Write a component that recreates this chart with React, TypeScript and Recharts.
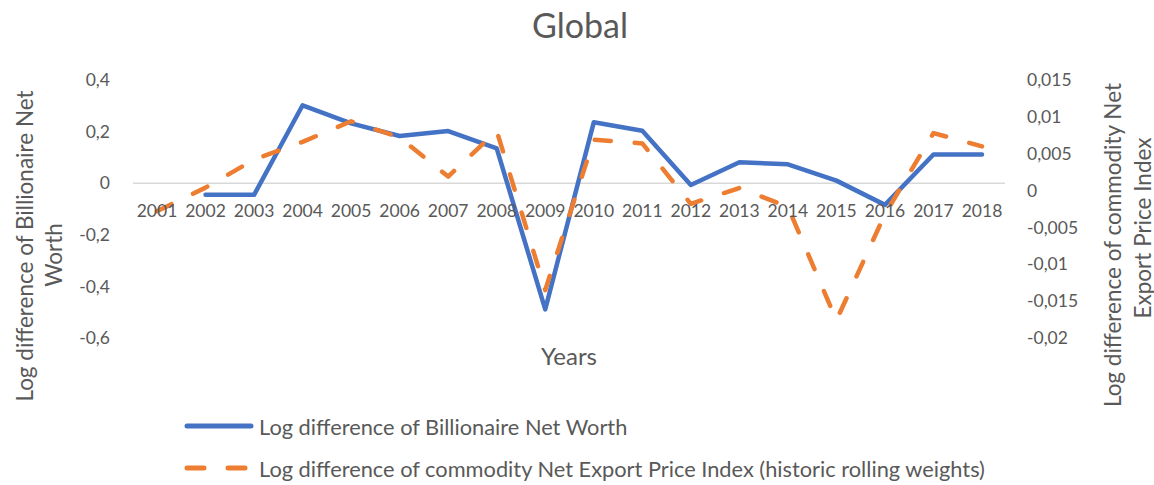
import { LineChart, Line, XAxis, YAxis, ReferenceLine, Legend } from "recharts";

// data
const years = [
  "2001", "2002", "2003", "2004", "2005", "2006", "2007", "2008", "2009",
  "2010", "2011", "2012", "2013", "2014", "2015", "2016", "2017", "2018",
];
const billionaireNetWorth = [
  null, -0.045, -0.045, 0.302, 0.232, 0.183, 0.202, 0.135, -0.489,
  0.236, 0.203, -0.007, 0.081, 0.073, 0.01, -0.084, 0.111, 0.111,
];
const commodityPriceIndex = [
  -0.0028, 0.0004, 0.0042, 0.0066, 0.0094, 0.0072, 0.0019, 0.0081, -0.0135,
  0.0069, 0.0064, -0.0018, 0.00035, -0.0022, -0.0176, -0.0032, 0.0078, 0.006,
];
const leftTicks = [-0.6, -0.4, -0.2, 0, 0.2, 0.4];
const rightTicks = [-0.02, -0.015, -0.01, -0.005, 0, 0.005, 0.01, 0.015];

const W = 1154;
const H = 485;
const LEGEND_H = 85;
const X_AXIS_H = 30;
// legend height is taken out of the bottom margin by recharts
const MARGIN = { top: 80, right: 69, bottom: 117 - LEGEND_H, left: 60 };
const PLOT_H = H - MARGIN.top - MARGIN.bottom - X_AXIS_H - LEGEND_H;
const ZERO_Y = MARGIN.top + PLOT_H * (0.4 / 1.0);
const TEXT = "#595959";
const FONT = "Lato, 'Open Sans', sans-serif";

const SERIES = [
  { key: "billionaire", name: "Log difference of Billionaire Net Worth", color: "#4472C4", dash: undefined as string | undefined, axis: "left" },
  { key: "commodity", name: "Log difference of commodity Net Export Price Index (historic rolling weights)", color: "#ED7D31", dash: "16 24", axis: "right" },
];

const data = years.map((year, i) => ({
  year,
  billionaire: billionaireNetWorth[i],
  commodity: commodityPriceIndex[i],
}));

const comma = (v: number) => String(v).replace(".", ",");

function YearTick({ x, payload }: any) {
  return (
    <text x={x} y={ZERO_Y + 34} textAnchor="middle" fill={TEXT} fontSize={17.5} fontFamily={FONT}>
      {payload.value}
    </text>
  );
}

function VTitle({ x, y, text }: { x: number; y: number; text: string }) {
  return (
    <text
      x={x}
      y={y}
      transform={`rotate(-90 ${x} ${y})`}
      textAnchor="middle"
      dominantBaseline="central"
      fill={TEXT}
      fontSize={22.5}
      fontFamily={FONT}
    >
      {text}
    </text>
  );
}

function LegendBox() {
  return (
    <svg width={W} height={LEGEND_H} style={{ display: "block" }}>
      {SERIES.map((s, i) => {
        const y = 26 + i * 42;
        return (
          <g key={s.key}>
            <line
              x1={187}
              x2={s.dash ? 246 : 251}
              y1={y}
              y2={y}
              stroke={s.color}
              strokeWidth={5}
              strokeLinecap="round"
              strokeDasharray={s.dash ? "17 24" : undefined}
            />
            <text x={259} y={y} dominantBaseline="central" fill={TEXT} fontSize={21.8} fontFamily={FONT}>
              {s.name}
            </text>
          </g>
        );
      })}
    </svg>
  );
}

export default function App() {
  return (
    <div style={{ position: "absolute", left: 0, top: 0, width: W, height: H, background: "#fff" }}>
      <svg width={W} height={50} style={{ position: "absolute", left: 0, top: 0 }}>
        <text x={580} y={38} textAnchor="middle" fill={TEXT} fontSize={34} fontFamily={FONT}>
          Global
        </text>
      </svg>
      <LineChart width={W} height={H} data={data} margin={MARGIN}>
        <XAxis
          dataKey="year"
          height={X_AXIS_H}
          padding={{ left: 24, right: 23 }}
          axisLine={false}
          tickLine={false}
          tickSize={0}
          interval={0}
          tick={<YearTick />}
          label={{
            content: () => (
              <text x={569} y={365} textAnchor="middle" fill={TEXT} fontSize={24} fontFamily={FONT}>
                Years
              </text>
            ),
          }}
        />
        <YAxis
          yAxisId="left"
          width={73}
          domain={[-0.6, 0.4]}
          ticks={leftTicks}
          tickFormatter={comma}
          axisLine={false}
          tickLine={false}
          tickSize={0}
          tickMargin={23}
          tick={{ fill: TEXT, fontSize: 17.5, fontFamily: FONT }}
          label={{
            content: () => (
              <g>
                <VTitle x={24} y={246} text="Log difference of Billionaire Net" />
                <VTitle x={53} y={255} text="Worth" />
              </g>
            ),
          }}
        />
        <YAxis
          yAxisId="right"
          orientation="right"
          width={80}
          domain={[-0.02, 0.015]}
          ticks={rightTicks}
          tickFormatter={comma}
          axisLine={false}
          tickLine={false}
          tickSize={0}
          tickMargin={22}
          tick={{ fill: TEXT, fontSize: 17.5, fontFamily: FONT, textAnchor: "start" }}
          label={{
            content: () => (
              <g>
                <VTitle x={1112} y={245} text="Log difference of commodity Net" />
                <VTitle x={1142} y={228} text="Export Price Index" />
              </g>
            ),
          }}
        />
        <ReferenceLine yAxisId="left" y={0} stroke="#d9d9d9" strokeWidth={1.5} />
        {SERIES.map((s) => (
          <Line
            key={s.key}
            yAxisId={s.axis}
            dataKey={s.key}
            name={s.name}
            type="linear"
            stroke={s.color}
            strokeWidth={4.5}
            strokeDasharray={s.dash}
            strokeLinecap="round"
            strokeLinejoin="round"
            dot={false}
            activeDot={false}
            isAnimationActive={false}
          />
        ))}
        <Legend
          content={() => <LegendBox />}
          wrapperStyle={{ position: "absolute", left: 0, top: 400, width: W, height: LEGEND_H }}
        />
      </LineChart>
    </div>
  );
}
